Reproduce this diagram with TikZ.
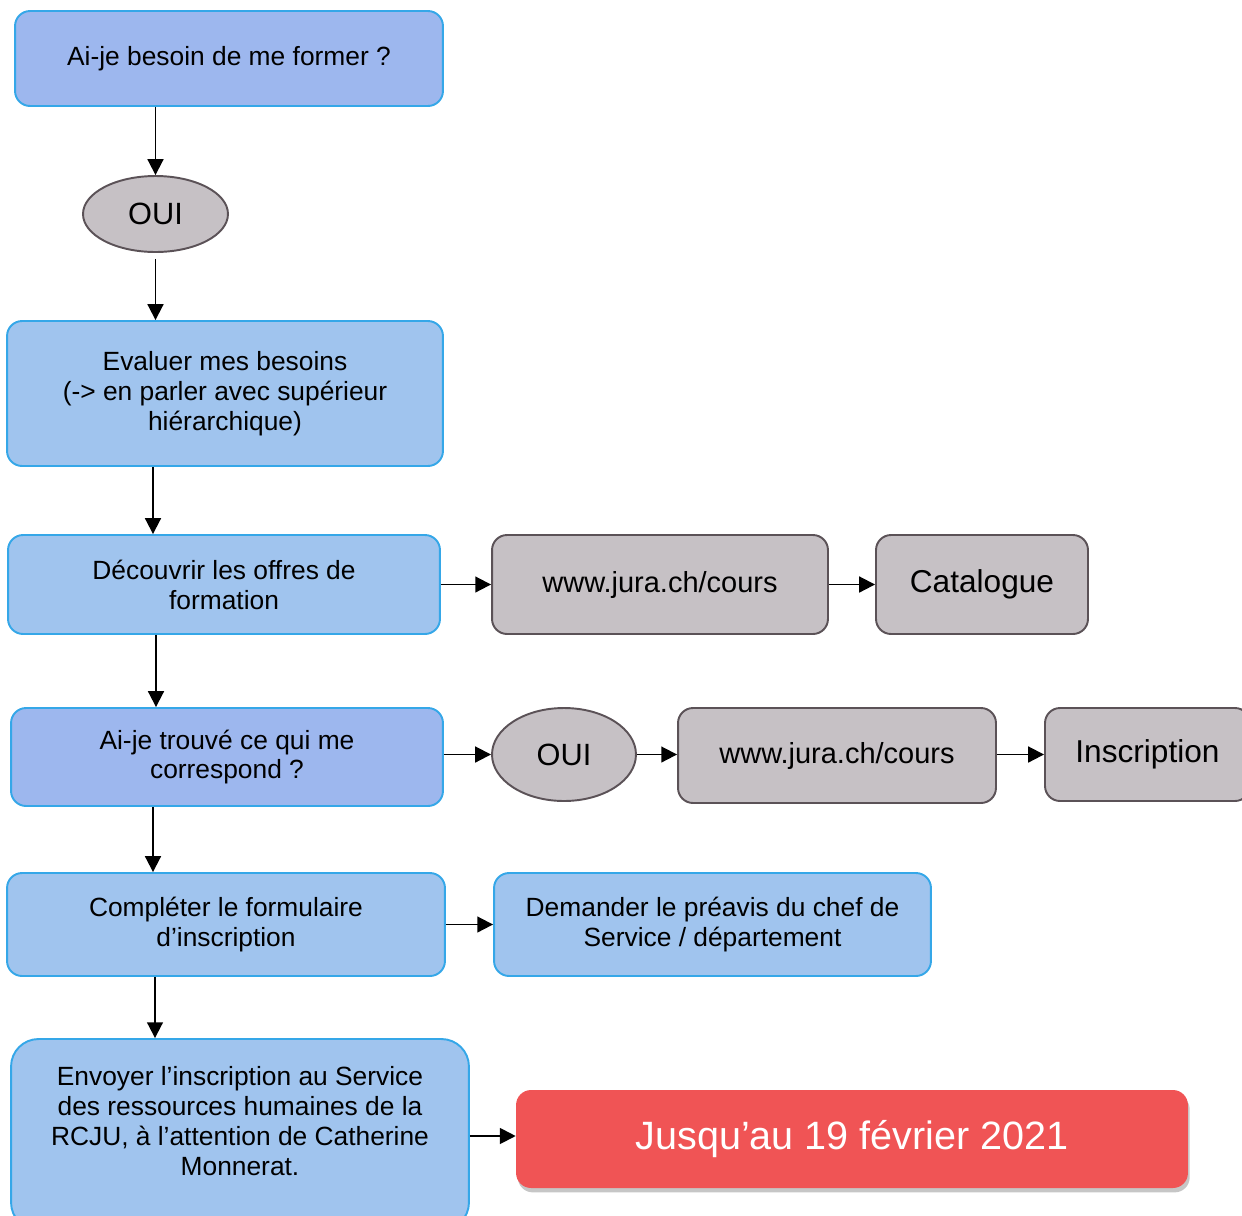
\documentclass[tikz,border=0pt]{standalone}
\usepackage{fontspec}
\setmainfont{Liberation Sans}
\usetikzlibrary{arrows.meta,shapes.geometric,shadows}

\definecolor{bordbleu}{HTML}{35A7E8}
\definecolor{fondbleu}{HTML}{A0C4EE}
\definecolor{fondlilas}{HTML}{9DB7EE}
\definecolor{fondgris}{HTML}{C6C1C5}
\definecolor{bordgris}{HTML}{5B5257}
\definecolor{fondrouge}{HTML}{F05455}

\begin{document}
\begin{tikzpicture}[x=0.02cm,y=-0.02cm,
  bleu/.style={draw=bordbleu,line width=1.1pt,fill=fondbleu,rounded corners=0.3cm,
    align=center,inner sep=0pt,font=\fontsize{15}{17}\selectfont},
  gris/.style={draw=bordgris,line width=1.1pt,fill=fondgris,rounded corners=0.3cm,
    align=center,inner sep=0pt,font=\fontsize{16.5}{19}\selectfont},
  oui/.style={ellipse,draw=bordgris,line width=1.1pt,fill=fondgris,inner sep=0pt,
    font=\fontsize{17.5}{20}\selectfont},
  fleche/.style={-{Triangle[length=9pt,width=9pt]},line width=1.1pt}]

\clip (0,0) rectangle (1242,1215);

% Colonne de gauche
\node[bleu,fill=fondlilas,minimum width=8.56cm,minimum height=1.9cm] (besoin) at (229,58.5)
  {Ai-je besoin de me former ?};
\node[oui,minimum width=2.9cm,minimum height=1.52cm] (oui1) at (155.5,214) {OUI};
\node[bleu,minimum width=8.72cm,minimum height=2.9cm] (evaluer) at (225,393.5)
  {Evaluer mes besoins\\(-> en parler avec supérieur\\hiérarchique)};
\node[bleu,minimum width=8.64cm,minimum height=1.98cm] (decouvrir) at (224,584.5)
  {Découvrir les offres de\\formation};
\node[bleu,fill=fondlilas,minimum width=8.64cm,minimum height=1.96cm] (trouve) at (227,757)
  {Ai-je trouvé ce qui me\\correspond ?};
\node[bleu,minimum width=8.76cm,minimum height=2.06cm] (completer) at (226,924.5)
  {Compléter le formulaire\\d’inscription};
\node[bleu,rounded corners=0.55cm,minimum width=9.16cm,minimum height=3.82cm] (envoyer) at (240,1134.5) {};
\node[align=center,inner sep=0pt,font=\fontsize{15}{17.2}\selectfont] (envoyertxt) at (240,1121)
  {Envoyer l’inscription au Service\\des ressources humaines de la\\RCJU, à l’attention de Catherine\\Monnerat.};

% Branches a droite
\node[gris,minimum width=6.72cm,minimum height=1.98cm] (site1) at (660,584.5) {www.jura.ch/cours};
\node[gris,font=\fontsize{18}{21}\selectfont,minimum width=4.24cm,minimum height=1.98cm] (catalogue) at (982,584.5) {Catalogue};
\node[oui,minimum width=2.88cm,minimum height=1.86cm] (oui2) at (564,754.5) {OUI};
\node[gris,minimum width=6.36cm,minimum height=1.9cm] (site2) at (837,755.5) {www.jura.ch/cours};
\node[gris,font=\fontsize{18}{21}\selectfont,minimum width=4.1cm,minimum height=1.86cm] (inscription) at (1147.5,754.5) {Inscription};
\node[bleu,minimum width=8.74cm,minimum height=2.06cm] (preavis) at (712.5,924.5)
  {Demander le préavis du chef de\\Service / département};
\node[fill=fondrouge,rounded corners=0.3cm,text=white,inner sep=0pt,
  font=\fontsize{22.5}{26}\selectfont,minimum width=13.44cm,minimum height=1.96cm,
  drop shadow={shadow xshift=1pt,shadow yshift=-2.5pt,fill=black!50,opacity=0.45}]
  (jusquau) at (852,1139) {Jusqu’au 19 février 2021};

% Fleches verticales
\draw[fleche] (besoin.south -| oui1) -- (oui1.north);
\draw[fleche,shorten <=3.4pt] (oui1.south) -- (evaluer.north -| oui1);
\draw[fleche] (evaluer.south -| 153,0) -- (decouvrir.north -| 153,0);
\draw[fleche] (decouvrir.south -| 156,0) -- (trouve.north -| 156,0);
\draw[fleche] (trouve.south -| 153,0) -- (completer.north -| 153,0);
\draw[fleche] (completer.south -| 155,0) -- (envoyer.north -| 155,0);

% Fleches horizontales
\draw[fleche] (decouvrir.east) -- (site1.west);
\draw[fleche] (site1.east) -- (catalogue.west);
\draw[fleche] (trouve.east |- 0,754.5) -- (oui2.west);
\draw[fleche] (oui2.east) -- (site2.west |- 0,754.5);
\draw[fleche] (site2.east |- 0,754.5) -- (inscription.west);
\draw[fleche] (completer.east) -- (preavis.west);
\draw[fleche] (envoyer.east |- 0,1136) -- (jusquau.west |- 0,1136);

\end{tikzpicture}
\end{document}
